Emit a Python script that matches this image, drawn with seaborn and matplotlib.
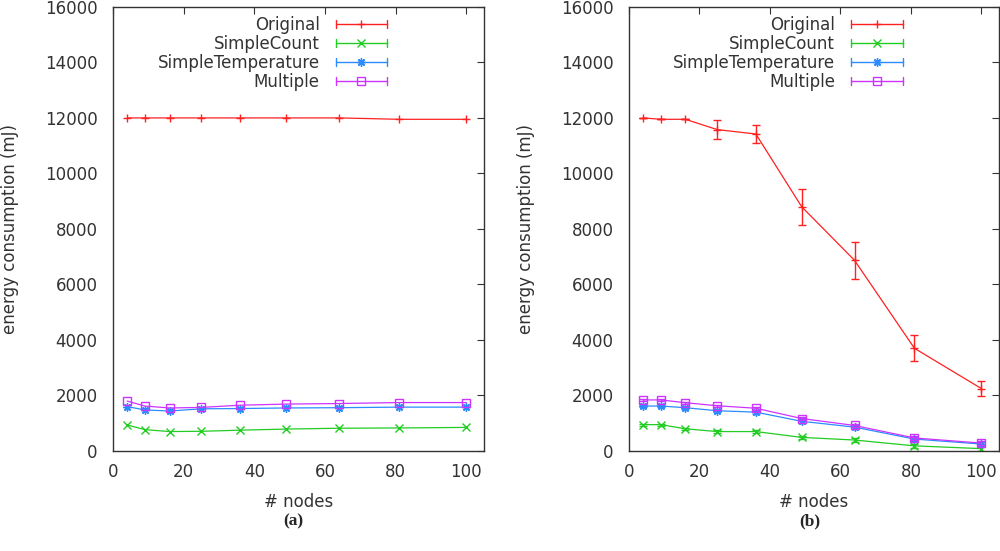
import matplotlib
matplotlib.use("Agg")
import matplotlib.pyplot as plt
import seaborn as sns
from matplotlib.lines import Line2D
from matplotlib.legend_handler import HandlerBase

# data
nodes = [4, 9, 16, 25, 36, 49, 64, 81, 100]

# panel (a)
a_original = [12000, 12000, 12000, 12000, 12000, 12000, 12000, 11950, 11950]
a_count = [940, 770, 700, 710, 750, 790, 820, 830, 850]
a_temp = [1600, 1480, 1440, 1520, 1530, 1550, 1560, 1580, 1580]
a_multiple = [1800, 1620, 1550, 1570, 1650, 1690, 1710, 1745, 1745]

# panel (b)
b_original = [12000, 11950, 11950, 11580, 11420, 8800, 6870, 3700, 2250]
b_original_err = [0, 0, 0, 350, 340, 650, 670, 470, 270]
b_count = [950, 950, 800, 700, 700, 490, 395, 185, 85]
b_temp = [1620, 1620, 1560, 1450, 1400, 1070, 860, 430, 250]
b_multiple = [1840, 1840, 1740, 1630, 1540, 1170, 920, 470, 285]
b_small_err = [40, 40, 40, 40, 50, 50, 60, 60, 70]

labels = ["Original", "SimpleCount", "SimpleTemperature", "Multiple"]
colors = ["#ff2020", "#22cc22", "#2a8cff", "#cc33ff"]
markers = ["+", "x", (8, 2, 0), "s"]

sns.set_theme(style="white")
plt.rcParams["font.family"] = ["DejaVu Sans"]
text_col = "#333333"
fs = 12


class GnuplotKey(HandlerBase):
    # horizontal errorbar-looking key entry, like gnuplot draws it
    def create_artists(self, legend, orig_handle, xdescent, ydescent,
                       width, height, fontsize, trans):
        y = height / 2 - ydescent
        x0, x1 = -xdescent, width - xdescent
        c = orig_handle.get_color()
        arts = [
            Line2D([x0, x1], [y, y], color=c, lw=1),
            Line2D([x0, x0], [y - 3, y + 3], color=c, lw=1),
            Line2D([x1, x1], [y - 3, y + 3], color=c, lw=1),
            Line2D([(x0 + x1) / 2], [y], color=c, marker=orig_handle.get_marker(),
                   ms=6, mew=1, mfc="none", ls="none"),
        ]
        for a in arts:
            a.set_transform(trans)
        return arts


def draw_panel(ax, series, errs):
    for vals, err, lab, col, mk in zip(series, errs, labels, colors, markers):
        sns.lineplot(x=nodes, y=vals, ax=ax, color=col, lw=0.9, marker=mk,
                     ms=6, mew=1, mfc="none", mec=col, label=lab, legend=False)
        if err is not None:
            ax.errorbar(nodes, vals, yerr=err, fmt="none", ecolor=col,
                        elinewidth=1, capsize=3, capthick=1)
    ax.set_xlim(0, 105)
    ax.set_ylim(0, 16000)
    ax.set_xticks(range(0, 101, 20))
    ax.set_yticks(range(0, 16001, 2000))
    ax.tick_params(direction="in", length=5, width=0.8, top=True, right=True,
                   labelsize=fs, labelcolor=text_col, color="#333333")
    ax.tick_params(axis="x", pad=8.5)
    ax.tick_params(axis="y", pad=11)
    for s in ax.spines.values():
        s.set_color("#333333")
        s.set_linewidth(1)
    ax.set_xlabel("# nodes", fontsize=fs, color=text_col)
    ax.set_ylabel("energy consumption (mJ)", fontsize=fs, color=text_col)
    ax.xaxis.set_label_coords(0.5, -0.095)
    ax.yaxis.set_label_coords(-0.254, 0.5)
    handles = [Line2D([], [], color=c, marker=m) for c, m in zip(colors, markers)]
    leg = ax.legend(handles, labels, handler_map={Line2D: GnuplotKey()},
                    loc="upper right", bbox_to_anchor=(0.764, 1.0),
                    frameon=False, markerfirst=False, fontsize=fs,
                    handlelength=3.1, handletextpad=0.95, labelspacing=0.05,
                    borderaxespad=0.15)
    for t in leg.get_texts():
        t.set_color(text_col)


fig = plt.figure(figsize=(10, 5.51), dpi=100)
ax1 = fig.add_axes([0.113, 0.1815, 0.371, 0.806])
ax2 = fig.add_axes([0.629, 0.1815, 0.370, 0.806])

draw_panel(ax1, [a_original, a_count, a_temp, a_multiple], [None, None, None, None])
draw_panel(ax2, [b_original, b_count, b_temp, b_multiple],
           [b_original_err, b_small_err, b_small_err, b_small_err])

fig.text(0.293, 0.054, "(a)", ha="center", va="center", fontsize=12.5,
         fontweight="bold", family="Liberation Serif")
fig.text(0.81, 0.054, "(b)", ha="center", va="center", fontsize=12.5,
         fontweight="bold", family="Liberation Serif")

fig.savefig("out.png", dpi=100)
